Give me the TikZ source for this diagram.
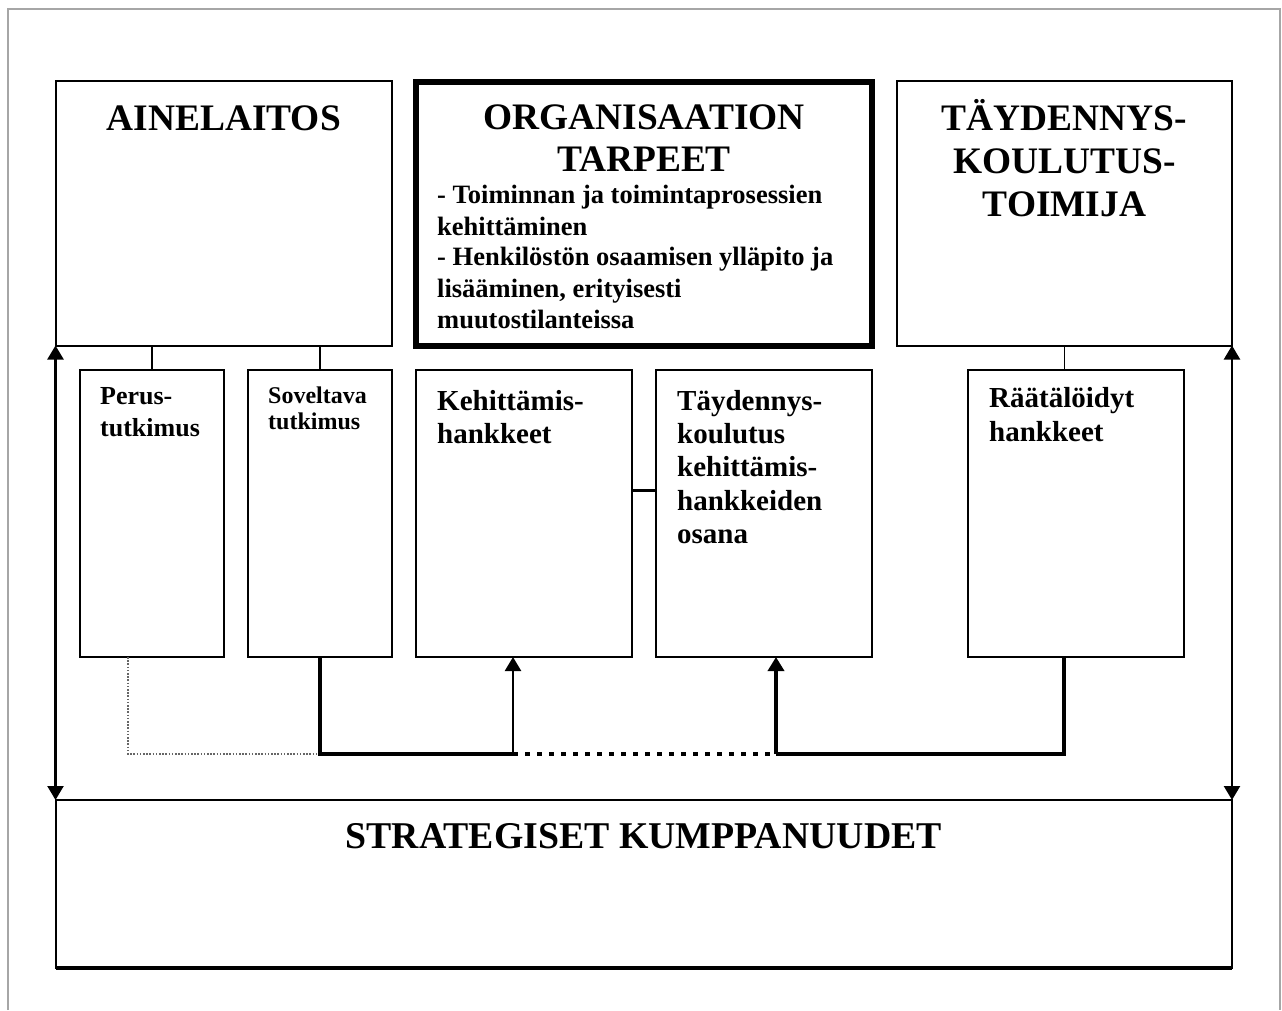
\documentclass[tikz,border=0pt]{standalone}
\usepackage{fontspec}
\setmainfont{Liberation Serif}
\usetikzlibrary{arrows.meta,calc}
\begin{document}
\begin{tikzpicture}[x=1pt,y=-1pt,
  box/.style={draw, rectangle, line width=2pt, inner sep=0pt, outer sep=0pt},
  head/.style={font=\bfseries\fontsize{37.4}{42}\selectfont, inner sep=0pt, anchor=base},
  bul/.style={font=\bfseries\fontsize{26.5}{31}\selectfont, inner sep=0pt, anchor=base west},
  lbl/.style={font=\bfseries\fontsize{29}{33}\selectfont, inner sep=0pt, anchor=base west},
  lblp/.style={font=\bfseries\fontsize{26}{32}\selectfont, inner sep=0pt, anchor=base west},
  lbls/.style={font=\bfseries\fontsize{24}{26}\selectfont, inner sep=0pt, anchor=base west},
  tie/.style={line width=1.5pt},
  heavy/.style={line width=3.5pt},
  mid/.style={line width=2.3pt},
  link/.style={line width=3pt},
  tip/.style={-{Triangle[length=14pt,width=16pt]}},
  dtip/.style={{Triangle[length=14pt,width=16pt]}-{Triangle[length=14pt,width=16pt]}},
  faint/.style={draw=black!60, line width=1.3pt, dash pattern=on 1.6pt off 1.6pt},
  squares/.style={line width=4pt, dash pattern=on 5pt off 7pt},
]
\useasboundingbox (0,0) rectangle (1282,1010);
% page frame
\draw[black!35, line width=1.3pt] (8,1010) -- (8,9) -- (1280,9) -- (1280,1010);

% top boxes
\node[box, minimum width=336.5pt, minimum height=264.5pt] (ain) at (223.75,213.25) {};
\node[box, line width=6pt, minimum width=456pt, minimum height=264pt] (org) at (644,214) {};
\node[box, minimum width=335pt, minimum height=264.5pt] (tay) at (1064.5,213.25) {};

% lower boxes
\node[box, minimum width=144pt, minimum height=287pt] (perus) at (152,513.5) {};
\node[box, minimum width=144pt, minimum height=287pt] (sov) at (320,513.5) {};
\node[box, minimum width=216pt, minimum height=287pt] (keh) at (524,513.5) {};
\node[box, minimum width=216pt, minimum height=287pt] (tkk) at (764,513.5) {};
\node[box, minimum width=216pt, minimum height=287pt] (raat) at (1076,513.5) {};

% bottom box
\node[box, minimum width=1176.5pt, minimum height=168pt] (strat) at (643.75,884) {};
\draw[line width=4pt] (strat.south west) -- (strat.south east);

% texts
\node[head] (tAin) at (223.75,130) {AINELAITOS};
\node[head] (tOrg1) at (644,129) {ORGANISAATION};
\node[head] (tOrg2) at (644,171) {TARPEET};
\node[bul] (b1) at (437,203) {- Toiminnan ja toimintaprosessien};
\node[bul] (b2) at (437,235) {kehittäminen};
\node[bul] (b3) at (437,265) {- Henkilöstön osaamisen ylläpito ja};
\node[bul] (b4) at (437,297) {lisääminen, erityisesti};
\node[bul] (b5) at (437,328) {muutostilanteissa};
\node[head] (tTay1) at (1064.5,130) {TÄYDENNYS-};
\node[head] (tTay2) at (1064.5,173) {KOULUTUS-};
\node[head] (tTay3) at (1064.5,216) {TOIMIJA};

\node[lblp] (tP1) at (100,404) {Perus-};
\node[lblp] (tP2) at (100,436) {tutkimus};
\node[lbls] (tS1) at (268,403) {Soveltava};
\node[lbls] (tS2) at (268,429) {tutkimus};
\node[lbl] (tK1) at (437,410) {Kehittämis-};
\node[lbl] (tK2) at (437,443) {hankkeet};
\node[lbl] (tT1) at (677,410) {Täydennys-};
\node[lbl] (tT2) at (677,443) {koulutus};
\node[lbl] (tT3) at (677,476) {kehittämis-};
\node[lbl] (tT4) at (677,510) {hankkeiden};
\node[lbl] (tT5) at (677,543) {osana};
\node[lbl] (tR1) at (989,407) {Räätälöidyt};
\node[lbl] (tR2) at (989,441) {hankkeet};
\node[head, font=\bfseries\fontsize{37.8}{42}\selectfont] (tStrat) at (643.75,848) {STRATEGISET KUMPPANUUDET};

% short ties between top and lower boxes
\draw[tie] (perus.north) -- (perus.north |- ain.south);
\draw[tie] (sov.north) -- (sov.north |- ain.south);
\draw[tie] (tay.south) -- (tay.south |- raat.north);
\draw[link] ([yshift=23.5pt]keh.east) -- ([yshift=23.5pt]tkk.east -| tkk.west);

% side double arrows
\draw[mid, dtip] (ain.south west) -- (strat.north west);
\draw[mid, dtip] (tay.south east) -- (strat.north east);

% bottom network
\coordinate (jl) at (sov.south |- 0,754);
\coordinate (jk) at (513,754);
\coordinate (jt) at (776,754);
\coordinate (jr) at (1064,754);
\draw[faint] ([xshift=-24pt]perus.south) |- (jl);
\draw[heavy] (sov.south) -- (jl) -- (jk);
\draw[mid, tip] (jk) -- (jk |- keh.south);
\draw[squares] (jk) -- (jt);
\draw[heavy, tip] (jt) -- (jt |- tkk.south);
\draw[heavy] (jr |- raat.south) -- (jr) -- (jt);
\end{tikzpicture}
\end{document}
